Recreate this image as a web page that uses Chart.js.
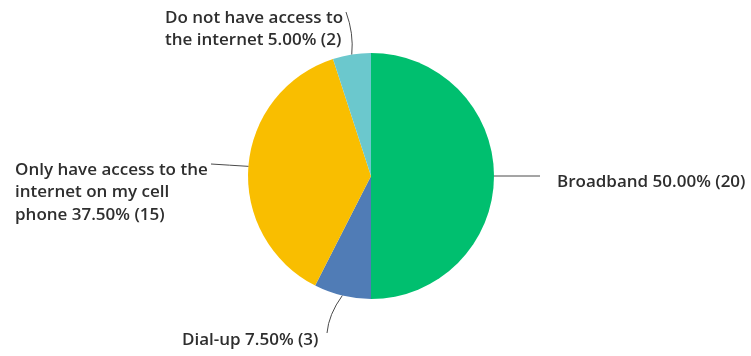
<!DOCTYPE html>
<html>
<head>
<meta charset="utf-8">
<script src="https://cdn.jsdelivr.net/npm/chart.js@4"></script>
<style>
  html, body { margin: 0; padding: 0; background: #fff; }
  #wrap { width: 751px; height: 356px; position: relative; }
</style>
</head>
<body>
<div id="wrap"><canvas id="pieChart"></canvas></div>
<script>
// answers, clockwise from 12 o'clock
const answers = ['Broadband', 'Dial-up', 'Only have access to the internet on my cell phone', 'Do not have access to the internet'];
const responses = [20, 3, 15, 2];
const sliceColors = ['#00BF6F', '#507CB6', '#F9BE00', '#6BC8CD'];

// where each label block sits (left x, middle of first line) and where its leader ends
const labelPlace = [
    { x: 557, y: 182, endX: 540, endY: 176, bend: 0 },
    { x: 182, y: 340, endX: 327, endY: 333, bend: -6 },
    { x: 15, y: 170, endX: 211, endY: 164, bend: 0 },
    { x: 165, y: 18, endX: 346, endY: 12, bend: 5 }
];

const FONT = '600 17px "Open Sans", sans-serif';
const LINE_H = 22.5;
const WRAP_W = 202;

function wrapText(ctx, text, maxW) {
    const words = text.split(' ');
    const lines = [];
    let cur = '';
    words.forEach(function (w) {
        const test = cur ? cur + ' ' + w : w;
        if (ctx.measureText(test).width > maxW && cur) {
            lines.push(cur);
            cur = w;
        } else {
            cur = test;
        }
    });
    if (cur) lines.push(cur);
    return lines;
}

const calloutPlugin = {
    id: 'callouts',
    afterDatasetsDraw(chart) {
        const ctx = chart.ctx;
        const meta = chart.getDatasetMeta(0);
        const total = responses.reduce((a, b) => a + b, 0);
        ctx.save();
        ctx.font = FONT;
        ctx.fillStyle = '#2e2e2e';
        ctx.textBaseline = 'middle';
        ctx.textAlign = 'left';
        meta.data.forEach(function (arc, i) {
            const mid = (arc.startAngle + arc.endAngle) / 2;
            const sx = arc.x + Math.cos(mid) * arc.outerRadius;
            const sy = arc.y + Math.sin(mid) * arc.outerRadius;
            const p = labelPlace[i];

            // leader line
            ctx.strokeStyle = '#4a4a4a';
            ctx.lineWidth = 1;
            ctx.beginPath();
            ctx.moveTo(sx, sy);
            const cx = (sx + p.endX) / 2 + p.bend;
            const cy = (sy + p.endY) / 2;
            ctx.quadraticCurveTo(cx, cy, p.endX, p.endY);
            ctx.stroke();

            const pct = (responses[i] / total * 100).toFixed(2);
            const text = answers[i] + ' ' + pct + '% (' + responses[i] + ')';
            const lines = wrapText(ctx, text, WRAP_W);
            lines.forEach(function (ln, k) {
                ctx.fillText(ln, p.x, p.y + k * LINE_H);
            });
        });
        ctx.restore();
    }
};

new Chart(document.getElementById('pieChart'), {
    type: 'pie',
    data: {
        labels: answers,
        datasets: [{
            data: responses,
            backgroundColor: sliceColors,
            borderWidth: 0
        }]
    },
    options: {
        responsive: true,
        maintainAspectRatio: false,
        animation: false,
        layout: { padding: { left: 248, right: 257, top: 53, bottom: 57 } },
        plugins: {
            legend: { display: false },
            tooltip: { enabled: false }
        }
    },
    plugins: [calloutPlugin]
});
</script>
</body>
</html>
